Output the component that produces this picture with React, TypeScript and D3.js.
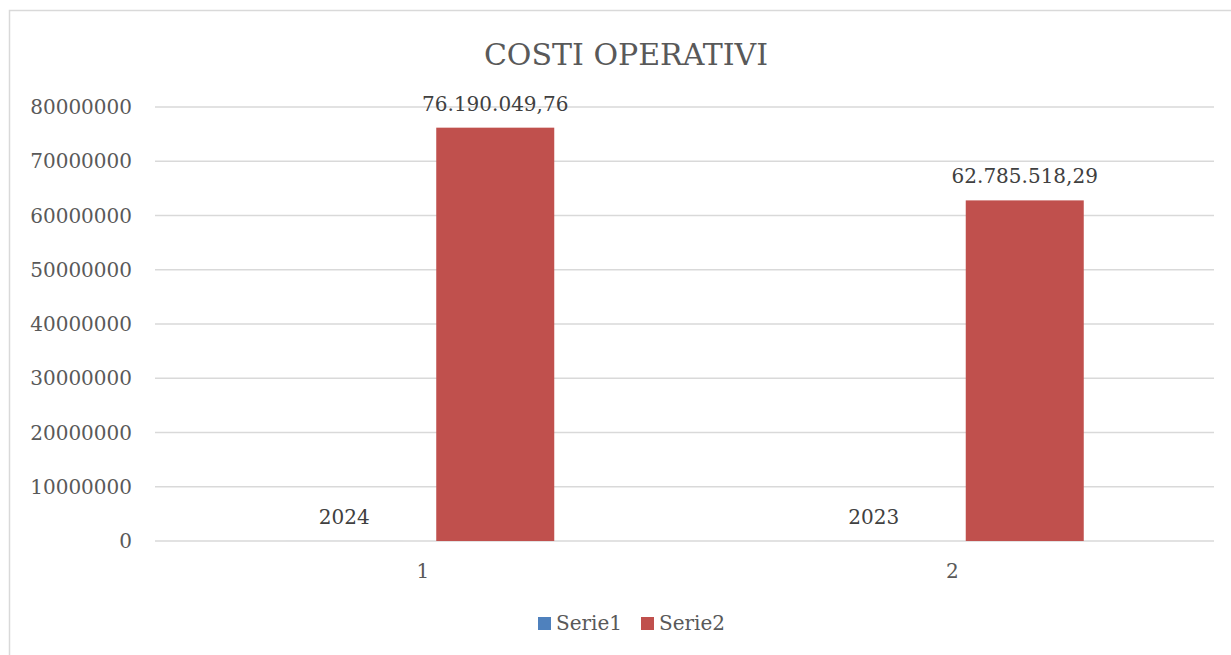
import React from "react";
import * as d3 from "d3";

const categories = ["1", "2"];
const seriesNames = ["Serie1", "Serie2"];
const serie1 = [2024, 2023];
const serie2 = [76190049.76, 62785518.29];
const serie1Labels = ["2024", "2023"];
const serie2Labels = ["76.190.049,76", "62.785.518,29"];
const yTicks = [0, 10000000, 20000000, 30000000, 40000000, 50000000, 60000000, 70000000, 80000000];
const colors = ["#4F81BD", "#C0504D"];
const title = "COSTI OPERATIVI";

const W = 1231, H = 655;
const FONT = "'DejaVu Serif', serif";

export default function App() {
  const left = 155, right = 1214, top = 107, bottom = 541;
  const x = d3.scaleBand<string>().domain(categories).range([left, right]).padding(0);
  const xs = d3.scaleBand<string>().domain(seriesNames).range([0, x.bandwidth()]).paddingInner(0.2185).paddingOuter(0.8626);
  const y = d3.scaleLinear().domain([0, 80000000]).range([bottom, top]);
  const values = [serie1, serie2];
  const labels = [serie1Labels, serie2Labels];
  return (
    <svg width={W} height={H} style={{ position: "absolute", left: 0, top: 0, background: "#fff" }}>
      <rect x={9.5} y={10.5} width={1300} height={800} fill="#fff" stroke="#d9d9d9" strokeWidth={1.5} />
      <text x={626} y={65} textAnchor="middle" fontFamily={FONT} fontSize={30} fill="#595959">{title}</text>
      {yTicks.map((t) => (
        <g key={t}>
          <line x1={left} x2={right} y1={y(t)} y2={y(t)} stroke="#d9d9d9" strokeWidth={1.5} />
          <text x={132} y={y(t)} dy="0.36em" textAnchor="end" fontFamily={FONT} fontSize={20} fill="#595959">{t}</text>
        </g>
      ))}
      {categories.map((c, i) => (
        <g key={c}>
          {seriesNames.map((s, j) => {
            const bx = (x(c) as number) + (xs(s) as number);
            const v = values[j][i];
            const by = y(v);
            return (
              <g key={s}>
                <rect x={bx} y={by} width={xs.bandwidth()} height={bottom - by} fill={colors[j]} />
                <text x={bx + xs.bandwidth() / 2} y={by - 17} textAnchor="middle" fontFamily={FONT} fontSize={20} fill="#404040">{labels[j][i]}</text>
              </g>
            );
          })}
          <text x={(x(c) as number) + x.bandwidth() / 2 + 3} y={578} textAnchor="middle" fontFamily={FONT} fontSize={20} fill="#595959">{c}</text>
        </g>
      ))}
      {seriesNames.map((s, j) => (
        <g key={s} transform={`translate(${538 + j * 103},617)`}>
          <rect x={0} y={0} width={13} height={13} fill={colors[j]} />
          <text x={18} y={13} fontFamily={FONT} fontSize={20} fill="#595959">{s}</text>
        </g>
      ))}
    </svg>
  );
}
